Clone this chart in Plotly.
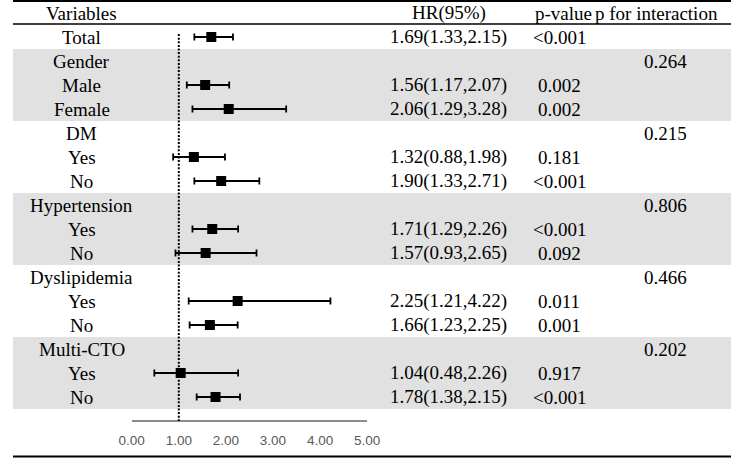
import plotly.graph_objects as go

# ---- data ----
labels = ["Total", "Gender", "Male", "Female", "DM", "Yes", "No",
          "Hypertension", "Yes", "No", "Dyslipidemia", "Yes", "No",
          "Multi-CTO", "Yes", "No"]
hr = [1.69, None, 1.56, 2.06, None, 1.32, 1.90, None, 1.71, 1.57,
      None, 2.25, 1.66, None, 1.04, 1.78]
lo = [1.33, None, 1.17, 1.29, None, 0.88, 1.33, None, 1.29, 0.93,
      None, 1.21, 1.23, None, 0.48, 1.38]
hi = [2.15, None, 2.07, 3.28, None, 1.98, 2.71, None, 2.26, 2.65,
      None, 4.22, 2.25, None, 2.26, 2.30]
hr_text = ["1.69(1.33,2.15)", "", "1.56(1.17,2.07)", "2.06(1.29,3.28)", "",
           "1.32(0.88,1.98)", "1.90(1.33,2.71)", "", "1.71(1.29,2.26)",
           "1.57(0.93,2.65)", "", "2.25(1.21,4.22)", "1.66(1.23,2.25)", "",
           "1.04(0.48,2.26)", "1.78(1.38,2.15)"]
p_value = ["<0.001", "", "0.002", "0.002", "", "0.181", "<0.001", "",
           "<0.001", "0.092", "", "0.011", "0.001", "", "0.917", "<0.001"]
p_inter = ["", "0.264", "", "", "0.215", "", "", "0.806", "", "", "0.466",
           "", "", "0.202", "", ""]
headers = ["Variables", "HR(95%)", "p-value", "p for interaction"]
tick_vals = [0, 1, 2, 3, 4, 5]
tick_labels = ["0.00", "1.00", "2.00", "3.00", "4.00", "5.00"]
shaded_groups = ["Gender", "Hypertension", "Multi-CTO"]

W, H = 744, 458
rows = list(range(1, len(labels) + 1))

fig = go.Figure()

pts = [(r, h, l, u) for r, h, l, u in zip(rows, hr, lo, hi) if h is not None]
fig.add_trace(go.Scatter(
    x=[p[1] for p in pts], y=[p[0] for p in pts], mode="markers",
    marker=dict(symbol="square", size=10, color="black"),
    error_x=dict(type="data", symmetric=False,
                 array=[p[3] - p[1] for p in pts],
                 arrayminus=[p[1] - p[2] for p in pts],
                 color="black", thickness=1.8, width=3.5),
    showlegend=False, hoverinfo="skip"))

shapes = []
for g in shaded_groups:
    i = labels.index(g)
    shapes.append(dict(type="rect", xref="paper", yref="y", x0=0, x1=1,
                       y0=rows[i] - 0.5, y1=rows[i] + 2.5,
                       fillcolor="#e1e1e1", line=dict(width=0), layer="below"))
shapes.append(dict(type="line", xref="paper", yref="paper", x0=0, x1=1,
                   y0=1 - 1 / H, y1=1 - 1 / H, line=dict(color="black", width=2)))
shapes.append(dict(type="line", xref="paper", yref="y", x0=0, x1=1,
                   y0=0.46, y1=0.46, line=dict(color="black", width=1.5)))
shapes.append(dict(type="line", xref="paper", yref="y", x0=0, x1=1,
                   y0=18.48, y1=18.48, line=dict(color="black", width=2)))
shapes.append(dict(type="line", xref="x", yref="y", x0=1, x1=1,
                   y0=0.88, y1=17, line=dict(color="black", width=2, dash="2px,1.6px")))

ann = []
font = dict(family="Liberation Serif", size=19, color="black")
col_x = [71, 452, 570, 667]
for h, cx in zip(headers, col_x):
    ann.append(dict(x=cx / W, y=0, xref="paper", yref="y", text=h,
                    showarrow=False, xanchor="center", yanchor="middle", font=font))
for r, lab, t, p, pi in zip(rows, labels, hr_text, p_value, p_inter):
    ann.append(dict(x=71 / W, y=r, xref="paper", yref="y", text=lab,
                    showarrow=False, xanchor="center", yanchor="middle", font=font))
    if t:
        ann.append(dict(x=451 / W, y=r, xref="paper", yref="y", text=t,
                        showarrow=False, xanchor="center", yanchor="middle", font=font))
    if p:
        ann.append(dict(x=566 / W, y=r, xref="paper", yref="y", text=p,
                        showarrow=False, xanchor="center", yanchor="middle", font=font))
    if pi:
        ann.append(dict(x=676 / W, y=r, xref="paper", yref="y", text=pi,
                        showarrow=False, xanchor="center", yanchor="middle", font=font))

fig.update_layout(
    width=W, height=H, margin=dict(l=0, r=0, t=0, b=0),
    paper_bgcolor="white", plot_bgcolor="rgba(0,0,0,0)",
    shapes=shapes, annotations=ann,
    xaxis=dict(domain=[123 / W, 367 / W], range=[0, 5], anchor="free",
               position=1 - 421 / H, showline=True, linecolor="#8c8c8c",
               linewidth=1.5, showgrid=False, zeroline=False,
               tickvals=tick_vals, ticktext=tick_labels, ticks="outside",
               ticklen=7, tickcolor="rgba(0,0,0,0)",
               tickfont=dict(family="Liberation Sans", size=13.5, color="#595959")),
    yaxis=dict(domain=[0, 1], range=[18.5417, -0.5417], visible=False),
)

fig.write_html("out.html", config={"displayModeBar": False},
               post_script="document.body.style.margin='0px';document.body.style.padding='0px';")
